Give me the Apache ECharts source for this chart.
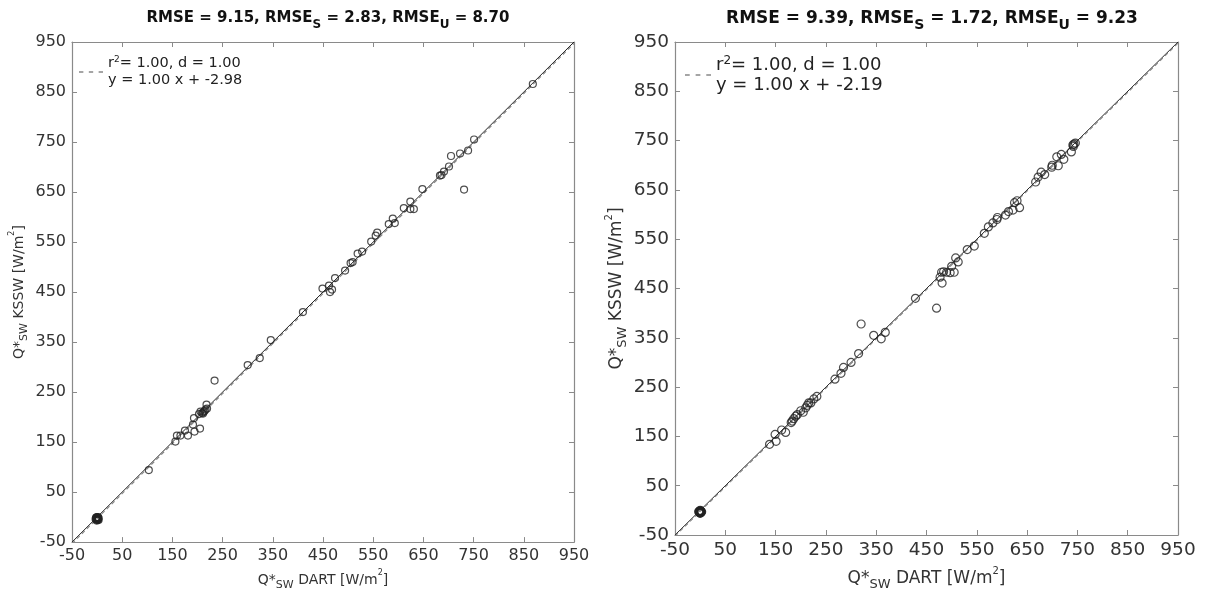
<!DOCTYPE html>
<html><head><meta charset="utf-8">
<script src="https://cdn.jsdelivr.net/npm/echarts@6/dist/echarts.min.js"></script>
<style>html,body{margin:0;padding:0;background:#fff}#c{width:1206px;height:596px}</style>
</head><body><div id="c"></div>
<script>
const tickValues = [-50, 50, 150, 250, 350, 450, 550, 650, 750, 850, 950];

const leftX = [0, 1, -1, 2, 0, 1, -2, 3, 0, 1, -1, 2, 0, -2, 1, -3, 3, 0, -1, 2,
  103, 156, 159, 166, 175, 181, 191, 193, 194, 205, 203, 206, 209, 212, 216, 218, 219, 214, 211, 234,
  300, 324, 346, 410, 449, 462, 464, 468,
  474, 494, 505, 509, 519, 528, 546, 555, 558, 581, 589, 593, 611, 624, 624, 631, 648,
  683, 686, 691, 701, 705, 723, 731, 739, 751, 868];
const leftY = [-3, -2, -4, -3, -1, -5, -3, -2, -4, -3, -1, -5, -6, -1, -2, -4, -6, 0, -7, 0,
  94, 151, 163, 163, 173, 163, 185, 198, 171, 177, 206, 211, 208, 210, 215, 225, 217, 212, 207, 273,
  304, 318, 354, 410, 457, 463, 450, 455,
  478, 493, 508, 510, 527, 531, 551, 563, 569, 586, 597, 588, 618, 631, 616, 616, 656,
  683, 684, 691, 701, 722, 727, 655, 733, 755, 866];

const rightX = [0, 1, -1, 2, 0, 1, -2, 2, -1, 1, -3, 3, 0, 0,
  138, 149, 151, 162, 170, 183, 186, 190, 193, 205, 210, 213, 216, 220, 226, 232, 181, 200, 268, 280,
  285, 300, 315, 320, 345, 360, 368,
  428, 470, 477, 480, 481, 484, 490, 497, 500, 505, 508, 513, 531, 545, 565, 573, 582, 590, 591,
  607, 613, 622, 625, 630, 635, 667, 672, 678, 685, 699, 700, 709, 712, 718, 723, 738, 741, 743, 746, 742];
const rightY = [-3, -2, -4, -3, -1, -5, -2, -4, -5, -1, -3, -3, 0, -6,
  134, 154, 140, 163, 158, 181, 186, 191, 194, 199, 208, 213, 218, 218, 226, 231, 178, 202, 266, 278,
  290, 300, 318, 378, 355, 348, 361,
  430, 410, 473, 483, 461, 484, 483, 482, 495, 483, 512, 504, 529, 536, 562, 575, 583, 590, 594,
  599, 606, 609, 624, 628, 614, 666, 676, 686, 681, 696, 700, 717, 699, 722, 712, 727, 741, 743, 745, 738];

const leftStats = { rmse: '9.15', rmseS: '2.83', rmseU: '8.70', r2: '1.00', d: '1.00', slope: 1.00, intercept: -2.98 };
const rightStats = { rmse: '9.39', rmseS: '1.72', rmseU: '9.23', r2: '1.00', d: '1.00', slope: 1.00, intercept: -2.19 };

const FONT = '"DejaVu Sans", sans-serif';
const TXT = '#333';
const AX = '#8a8a8a';
const DASH_ICON = 'path://M0,0h4v1.2h-4z M9,0h4v1.2h-4z M18,0h4v1.2h-4z';

function zip(a, b) { return a.map((v, i) => [v, b[i]]); }

function makeAxes(gi, lab, nameSize, nameGapX, nameGapY) {
  const subRich = {
    n: { fontFamily: FONT, fontSize: nameSize, color: TXT, lineHeight: nameSize + 8 },
    s: { fontFamily: FONT, fontSize: Math.round(nameSize * 0.78), color: TXT, lineHeight: 12, verticalAlign: 'bottom' },
    p: { fontFamily: FONT, fontSize: Math.round(nameSize * 0.6), color: TXT, lineHeight: 10, verticalAlign: 'top' }
  };
  const common = {
    type: 'value', gridIndex: gi, min: -50, max: 950,
    axisLine: { show: true, onZero: false, lineStyle: { color: AX, width: 1.2 } },
    axisTick: { show: true, inside: true, length: 5, customValues: tickValues, lineStyle: { color: AX } },
    splitLine: { show: false }
  };
  const xs = [
    Object.assign({}, common, {
      position: 'bottom',
      axisLabel: { customValues: tickValues, fontFamily: FONT, fontSize: lab, color: TXT, margin: 6 },
      name: '{n|Q*}{s|SW}{n| DART [W/m}{p|2}{n|]}', nameLocation: 'middle', nameGap: nameGapX,
      nameTextStyle: { rich: subRich }
    }),
    Object.assign({}, common, { position: 'top', axisLabel: { show: false } })
  ];
  const ys = [
    Object.assign({}, common, {
      position: 'left',
      axisLabel: { customValues: tickValues, fontFamily: FONT, fontSize: lab, color: TXT, margin: 6 },
      name: '{n|Q*}{s|SW}{n| KSSW [W/m}{p|2}{n|]}', nameLocation: 'middle', nameGap: nameGapY,
      nameTextStyle: { rich: subRich }
    }),
    Object.assign({}, common, { position: 'right', axisLabel: { show: false } })
  ];
  return { xs, ys };
}

const L = makeAxes(0, 16, 14, 26, 42);
const R = makeAxes(1, 18.5, 17, 31, 46);

function titleText(s) {
  return '{b|RMSE = ' + s.rmse + ', RMSE}{s|S}{b| = ' + s.rmseS + ', RMSE}{s|U}{b| = ' + s.rmseU + '}';
}
function titleRich(fs) {
  return {
    b: { fontFamily: FONT, fontWeight: 'bold', fontSize: fs, color: '#111', lineHeight: fs + 10 },
    s: { fontFamily: FONT, fontWeight: 'bold', fontSize: Math.round(fs * 0.8), color: '#111', lineHeight: 12, verticalAlign: 'bottom' }
  };
}
function legendText(s) {
  return '{t|r}{p|2}{t|= ' + s.r2 + ', d = ' + s.d + '}\n{t|y = ' + s.slope.toFixed(2) + ' x + ' + s.intercept.toFixed(2) + '}';
}
function legendRich(fs, lh) {
  return {
    t: { fontFamily: FONT, fontSize: fs, color: '#222', lineHeight: lh },
    p: { fontFamily: FONT, fontSize: Math.round(fs * 0.65), color: '#222', lineHeight: 10, verticalAlign: 'top' }
  };
}

function seriesFor(gi, name, xs, ys, st, size) {
  const lo = -50, hi = 950;
  return [
    { type: 'line', xAxisIndex: gi * 2, yAxisIndex: gi * 2, data: [[lo, lo], [hi, hi]], symbol: 'none', silent: true,
      lineStyle: { color: '#222', width: 1 }, z: 2, clip: true },
    { type: 'line', name: name, xAxisIndex: gi * 2, yAxisIndex: gi * 2,
      data: [[lo, st.slope * lo + st.intercept], [hi, st.slope * hi + st.intercept]], symbol: 'none', silent: true,
      lineStyle: { color: '#888', width: 1.2, type: [4, 3] }, itemStyle: { color: '#888' }, z: 3, clip: true },
    { type: 'scatter', xAxisIndex: gi * 2, yAxisIndex: gi * 2, data: zip(xs, ys), symbol: 'circle', symbolSize: size,
      itemStyle: { color: 'rgba(0,0,0,0)', borderColor: '#222', borderWidth: 1.2 }, z: 4, silent: true }
  ];
}

const chart = echarts.init(document.getElementById('c'), null, { renderer: 'canvas' });
chart.setOption({
  backgroundColor: '#fff',
  animation: false,
  title: [
    { text: titleText(leftStats), left: 323, top: 1, textAlign: 'center', textStyle: { rich: titleRich(15) } },
    { text: titleText(rightStats), left: 927, top: 0, textAlign: 'center', textStyle: { rich: titleRich(17) } }
  ],
  legend: [
    { data: [{ name: 'fitL', icon: DASH_ICON, itemStyle: { color: '#888' } }], left: 79, top: 55, orient: 'vertical',
      itemWidth: 24, itemHeight: 14, itemGap: 0, padding: 0,
      formatter: () => legendText(leftStats), textStyle: { rich: legendRich(14.5, 17) }, selectedMode: false },
    { data: [{ name: 'fitR', icon: DASH_ICON, itemStyle: { color: '#888' } }], left: 685, top: 55, orient: 'vertical',
      itemWidth: 26, itemHeight: 14, itemGap: 0, padding: 0,
      formatter: () => legendText(rightStats), textStyle: { rich: legendRich(18, 20) }, selectedMode: false }
  ],
  grid: [
    { left: 72, top: 42, width: 502, height: 502, show: false },
    { left: 675, top: 42, width: 503, height: 502, show: false }
  ],
  xAxis: [L.xs[0], L.xs[1], R.xs[0], R.xs[1]],
  yAxis: [L.ys[0], L.ys[1], R.ys[0], R.ys[1]],
  series: [].concat(seriesFor(0, 'fitL', leftX, leftY, leftStats, 7), seriesFor(1, 'fitR', rightX, rightY, rightStats, 8))
});
</script>
</body></html>
